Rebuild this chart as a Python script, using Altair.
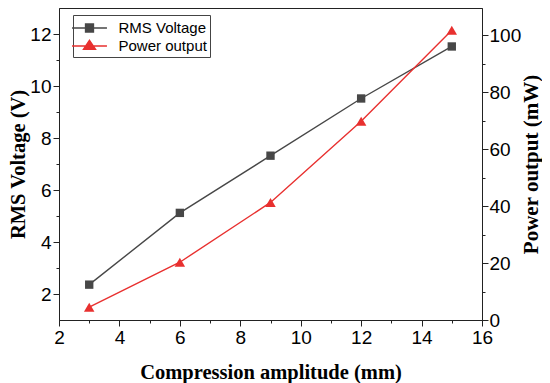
import altair as alt
import pandas as pd

amplitude = [3, 6, 9, 12, 15]
rms_voltage = [2.36, 5.12, 7.32, 9.52, 11.52]
power_output = [4.5, 20.3, 41.3, 69.8, 101.8]
series_names = ["RMS Voltage", "Power output"]
series_colors = ["#474747", "#e8302f"]

df = pd.DataFrame({"amp": amplitude, "rms": rms_voltage, "power": power_output})
leg_df = pd.DataFrame({"series": series_names})

LABEL_FONT = "Liberation Sans"
TITLE_FONT = "Liberation Serif"

even = "datum.value % 2 === 0"
even20 = "datum.value % 20 === 0"

def tick_dash(test):
    return {"condition": {"test": test, "value": [10, 1]}, "value": [3, 20]}

common_axis = dict(
    grid=False,
    labelFont=LABEL_FONT, labelFontSize=19, labelColor="black",
    titleFont=TITLE_FONT, titleFontWeight="bold", titleColor="black",
    domainColor="#222", tickColor="#222", tickSize=6, tickWidth=1,
    labelOverlap=False, labelFlush=False,
)

x_enc = alt.X(
    "amp:Q",
    scale=alt.Scale(domain=[2, 16], nice=False, zero=False),
    axis=alt.Axis(
        title="Compression amplitude (mm)",
        values=list(range(2, 17)),
        labelExpr=f"{even} ? datum.label : ''",
        tickDash=tick_dash(even),
        labelPadding=2,
        titlePadding=15,
        titleFontSize=20.5,
        **common_axis,
    ),
)

y_left = alt.Y(
    "rms:Q",
    scale=alt.Scale(domain=[1, 13], nice=False, zero=False),
    axis=alt.Axis(
        title="RMS Voltage (V)",
        orient="left",
        values=list(range(2, 13)),
        labelExpr=f"{even} ? datum.label : ''",
        tickDash=tick_dash(even),
        labelPadding=2,
        titlePadding=1,
        titleFontSize=20.5,
        **common_axis,
    ),
)

y_right = alt.Y(
    "power:Q",
    scale=alt.Scale(domain=[0, 109.6], nice=False, zero=False),
    axis=alt.Axis(
        title="Power output (mW)",
        orient="right",
        values=list(range(0, 101, 10)),
        labelExpr=f"{even20} ? datum.label : ''",
        tickDash=tick_dash(even20),
        labelPadding=1,
        titlePadding=21,
        titleAngle=270,
        titleFontSize=21,
        **common_axis,
    ),
)

base = alt.Chart(df)

rms_line = base.mark_line(color=series_colors[0], strokeWidth=1.4).encode(x=x_enc, y=y_left)
rms_pts = base.mark_square(color=series_colors[0], size=70, opacity=1).encode(x=x_enc, y=y_left)
left = alt.layer(rms_line, rms_pts)

pw_line = base.mark_line(color=series_colors[1], strokeWidth=1.4).encode(x=x_enc, y=y_right)
pw_pts = base.mark_point(shape="triangle-up", filled=True, color=series_colors[1], size=110, opacity=1).encode(x=x_enc, y=y_right)
right = alt.layer(pw_line, pw_pts)

sym_rms = "M-1.94,0H1.94M-0.44,-0.44H0.44V0.44H-0.44Z"
sym_pw = "M-1.94,0H1.94M0,-0.63L0.67,0.37H-0.67Z"

leg = alt.Legend(
    title=None,
    orient="none",
    legendX=14,
    legendY=7,
    symbolSize=324,
    symbolStrokeWidth=1.4,
    symbolOpacity=1,
    symbolOffset=3.5,
    labelFont=LABEL_FONT,
    labelFontSize=15,
    labelColor="black",
    labelOffset=19,
    padding=3,
    rowPadding=0,
    strokeColor="#444",
    fillColor="white",
)

legend_layer = (
    alt.Chart(leg_df)
    .transform_filter("false")
    .mark_point(filled=True)
    .encode(
        fill=alt.Fill("series:N", scale=alt.Scale(domain=series_names, range=series_colors), legend=leg),
        stroke=alt.Stroke("series:N", scale=alt.Scale(domain=series_names, range=series_colors), legend=leg),
        shape=alt.Shape("series:N", scale=alt.Scale(domain=series_names, range=[sym_rms, sym_pw]), legend=leg),
    )
)

chart = (
    alt.layer(left, right, legend_layer)
    .resolve_scale(y="independent")
    .properties(
        width=423,
        height=312,
        autosize=alt.AutoSizeParams(type="none"),
        padding={"left": 51, "top": 0, "right": 60, "bottom": 63},
        background="white",
    )
    .configure_view(stroke="#222", strokeWidth=1)
)

chart.save("out.html", embed_options={"renderer": "svg", "actions": False})
